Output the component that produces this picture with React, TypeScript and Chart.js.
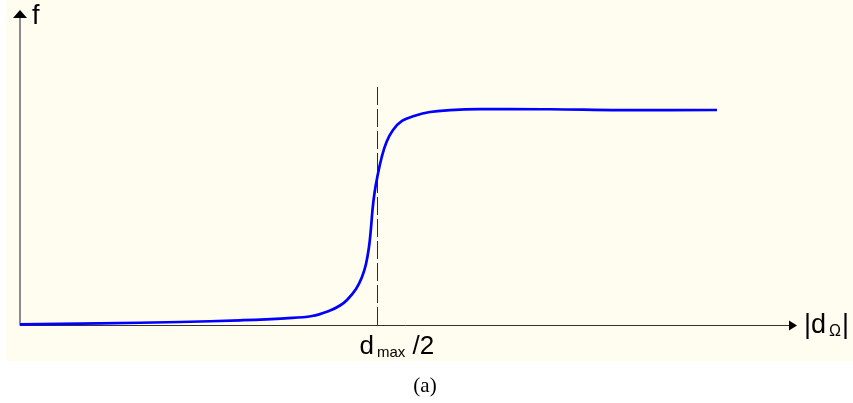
import { useEffect, useRef } from "react";
import Chart from "chart.js/auto";

// |d_Ω| values (in units of d_max/2) and f values
const DIST = [0, 0.2238, 0.4476, 0.6154, 0.7413, 0.8168, 0.8671, 0.8951, 0.9147, 0.9399, 0.9566, 0.9678, 0.9762, 0.9813, 0.986, 0.9916, 1.0, 1.0112, 1.0252, 1.0434, 1.0685, 1.1021, 1.1469, 1.2028, 1.2867, 1.4825, 1.6783, 1.9497];
const F = [0.0033, 0.0079, 0.014, 0.0219, 0.0312, 0.0419, 0.0674, 0.0907, 0.1163, 0.1674, 0.2233, 0.2837, 0.3628, 0.4419, 0.5349, 0.614, 0.693, 0.7767, 0.8512, 0.907, 0.9488, 0.9721, 0.9907, 0.9991, 1.0037, 1.0033, 0.9991, 1.0];
const HALF_DIST = 1; // d_max / 2
const DASH_RANGE = [0, 1.121];
const X_MAX = 2.1734;
const Y_MAX = 1.465;

const SANS = '"Liberation Sans", Arial, sans-serif';

const decor = {
  id: "decor",
  beforeDraw(chart: any) {
    const ctx = chart.ctx;
    ctx.save();
    ctx.fillStyle = "#ffffff";
    ctx.fillRect(0, 0, chart.width, chart.height);
    ctx.fillStyle = "#fffcf0";
    ctx.fillRect(6, 0, chart.width - 6, 361);
    ctx.restore();
  },
  beforeDatasetsDraw(chart: any) {
    const ctx = chart.ctx;
    const xs = chart.scales.x;
    const ys = chart.scales.y;
    const x0 = xs.getPixelForValue(0);
    const y0 = Math.round(ys.getPixelForValue(0)) + 0.5;
    const xEnd = xs.getPixelForValue(X_MAX);
    const yEnd = ys.getPixelForValue(Y_MAX);
    ctx.save();
    // y axis
    ctx.strokeStyle = "#8c8c8c";
    ctx.lineWidth = 2;
    ctx.beginPath();
    ctx.moveTo(x0, y0);
    ctx.lineTo(x0, yEnd + 6);
    ctx.stroke();
    // x axis
    ctx.strokeStyle = "#333333";
    ctx.lineWidth = 1;
    ctx.beginPath();
    ctx.moveTo(x0, y0);
    ctx.lineTo(xEnd - 6, y0);
    ctx.stroke();
    // arrowheads
    ctx.fillStyle = "#000000";
    ctx.beginPath();
    ctx.moveTo(x0, yEnd);
    ctx.lineTo(x0 - 7, yEnd + 8);
    ctx.lineTo(x0 + 7, yEnd + 8);
    ctx.closePath();
    ctx.fill();
    ctx.beginPath();
    ctx.moveTo(xEnd, y0);
    ctx.lineTo(xEnd - 8, y0 - 5);
    ctx.lineTo(xEnd - 8, y0 + 5);
    ctx.closePath();
    ctx.fill();
    ctx.restore();
  },
  afterDraw(chart: any) {
    const ctx = chart.ctx;
    const xs = chart.scales.x;
    const ys = chart.scales.y;
    const xHalf = xs.getPixelForValue(HALF_DIST);
    const xEnd = xs.getPixelForValue(X_MAX);
    const y0 = ys.getPixelForValue(0);
    const yEnd = ys.getPixelForValue(Y_MAX);
    ctx.save();
    ctx.fillStyle = "#000000";
    ctx.textBaseline = "alphabetic";
    ctx.textAlign = "left";
    // f
    ctx.font = `27px ${SANS}`;
    ctx.fillText("f", 32, yEnd + 14);
    // |d_Ω|
    let x = xEnd + 7;
    const by = y0 + 8;
    ctx.font = `27px ${SANS}`;
    ctx.fillText("|", x, by);
    x += ctx.measureText("|").width;
    ctx.fillText("d", x, by);
    x += ctx.measureText("d").width + 3;
    ctx.font = `16px ${SANS}`;
    ctx.fillText("Ω", x, by + 3);
    x += ctx.measureText("Ω").width + 1;
    ctx.font = `27px ${SANS}`;
    ctx.fillText("|", x, by);
    // d_max /2
    const ly = y0 + 29;
    ctx.font = `26px ${SANS}`;
    ctx.fillText("d", xHalf - 18, ly);
    ctx.font = `15px ${SANS}`;
    ctx.fillText("max", xHalf - 0.5, ly + 3);
    ctx.font = `26px ${SANS}`;
    ctx.fillText("/2", xHalf + 35, ly);
    // caption
    ctx.font = `21px "Liberation Serif", "Times New Roman", serif`;
    ctx.textAlign = "center";
    ctx.fillText("(a)", 425, 392);
    ctx.restore();
  },
};

export default function App() {
  const ref = useRef<HTMLCanvasElement | null>(null);
  useEffect(() => {
    document.body.style.margin = "0";
    const canvas = ref.current;
    if (!canvas) return;
    const chart = new Chart(canvas, {
      type: "line",
      data: {
        datasets: [
          {
            data: DIST.map((d, i) => ({ x: d, y: F[i] })),
            borderColor: "#0000ff",
            borderWidth: 2.7,
            pointRadius: 0,
            tension: 0.4,
            fill: false,
            clip: false as any,
          },
          {
            data: DASH_RANGE.map((v) => ({ x: HALF_DIST, y: v })),
            borderColor: "#2a2a2a",
            borderWidth: 1,
            borderDash: [18, 4],
            pointRadius: 0,
            fill: false,
            clip: false as any,
          },
        ],
      },
      options: {
        animation: false,
        responsive: false,
        events: [],
        layout: { padding: { left: 20, top: 10, right: 56, bottom: 78 } },
        plugins: { legend: { display: false }, tooltip: { enabled: false } },
        scales: {
          x: { type: "linear", min: 0, max: X_MAX, display: false },
          y: { type: "linear", min: 0, max: Y_MAX, display: false },
        },
      },
      plugins: [decor],
    });
    return () => chart.destroy();
  }, []);
  return (
    <div style={{ width: 853, height: 403 }}>
      <canvas ref={ref} width={853} height={403} style={{ display: "block" }} />
    </div>
  );
}
